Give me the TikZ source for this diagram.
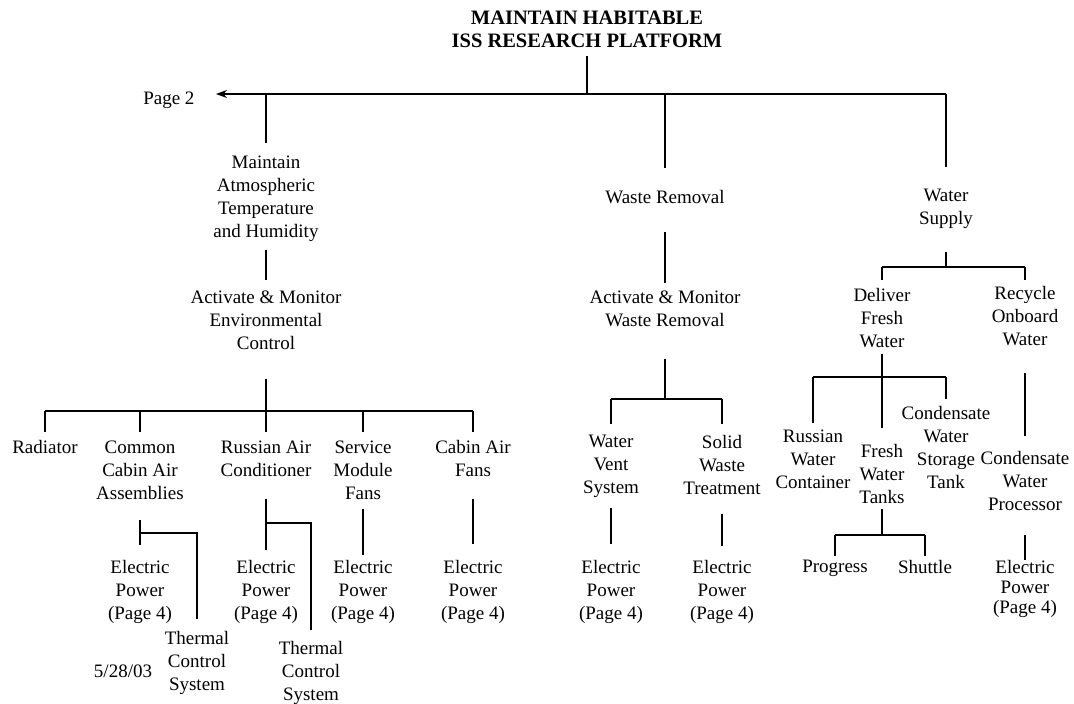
\documentclass[tikz,border=0pt]{standalone}
\usepackage{fontspec}
\setmainfont{Liberation Serif}
\usetikzlibrary{arrows.meta}

\begin{document}
\begin{tikzpicture}[x=1pt,y=-1pt,line width=1.1pt,
	box/.style={font=\fontsize{19}{23}\selectfont,align=center,inner sep=0pt,anchor=north,
		execute at end node={\rule[-4pt]{0pt}{4pt}}},
	head/.style={font=\bfseries\fontsize{20.5}{23}\selectfont,align=center,inner sep=0pt,anchor=north,
		execute at end node={\rule[-8pt]{0pt}{8pt}}}]
	\useasboundingbox (0,0) rectangle (1074,704);
	% goal and the three branches
	\node[head] (goal) at (587,10.5) {MAINTAIN HABITABLE\\ISS RESEARCH PLATFORM};
	\node[box,anchor=base east] (pg2) at (195,104) {Page 2};
	\node[box] (maint) at (266,155) {Maintain\\Atmospheric\\Temperature\\and Humidity};
	\node[box] (waste) at (665,190) {Waste Removal};
	\node[box] (water) at (946,189) {Water\\Supply};
	\coordinate (bus) at (587,94);
	\coordinate (pg2tip) at (216,94);
	\draw (goal) -- (bus);
	\draw[-{Stealth[length=11pt,width=8pt]}] (bus -| water) -- (pg2tip);
	\draw (bus -| maint) -- ([yshift=12pt]maint.north);
	\draw (bus -| waste) -- ([yshift=22pt]waste.north);
	\draw (bus -| water) -- ([yshift=22pt]water.north);
	
	% atmosphere
	\node[box] (actenv) at (266,290) {Activate \& Monitor\\Environmental\\Control};
	\node[box] (rad) at (45,440) {Radiator};
	\node[box] (cca) at (140,440) {Common\\Cabin Air\\Assemblies};
	\node[box] (rac) at (266,440) {Russian Air\\Conditioner};
	\node[box] (smf) at (363,440) {Service\\Module\\Fans};
	\node[box] (caf) at (473,440) {Cabin Air\\Fans};
	\node[box] (ep1) at (140,560) {Electric\\Power\\(Page 4)};
	\node[box] (ep2) at (266,560) {Electric\\Power\\(Page 4)};
	\node[box] (ep3) at (363,560) {Electric\\Power\\(Page 4)};
	\node[box] (ep4) at (473,560) {Electric\\Power\\(Page 4)};
	\node[box] (tcs1) at (197,631) {Thermal\\Control\\System};
	\node[box] (tcs2) at (311,641) {Thermal\\Control\\System};
	\node[box,anchor=base] (date) at (123,677) {5/28/03};
	\coordinate (envbar) at (266,411);
	\draw ([yshift=-8pt]maint.south) -- ([yshift=10pt]actenv.north);
	\draw ([yshift=-25pt]actenv.south) -- (envbar);
	\draw (rad |- envbar) -- (caf |- envbar);
	\foreach \n in {rad,cca,rac,smf,caf}
		\draw (\n |- envbar) -- ([yshift=8pt]\n.north);
	\coordinate (ccaj) at (140,533);
	\coordinate (racj) at (266,523);
	\draw ([yshift=-16pt]cca.south) -- ([yshift=15pt]ep1.north);
	\draw (ccaj) -| ([yshift=12pt]tcs1.north);
	\draw ([yshift=-18pt]rac.south) -- ([yshift=10pt]ep2.north);
	\draw (racj) -| ([yshift=11pt]tcs2.north);
	\draw ([yshift=-5pt]smf.south) -- ([yshift=5pt]ep3.north);
	\draw ([yshift=-18pt]caf.south) -- ([yshift=16pt]ep4.north);
	
	% waste
	\node[box] (actwaste) at (665,290) {Activate \& Monitor\\Waste Removal};
	\node[box] (wvs) at (611,435) {Water\\Vent\\System};
	\node[box] (swt) at (722,435) {Solid\\Waste\\Treatment};
	\node[box] (ep5) at (611,560) {Electric\\Power\\(Page 4)};
	\node[box] (ep6) at (722,560) {Electric\\Power\\(Page 4)};
	\coordinate (wbar) at (665,399);
	\draw ([yshift=-24pt]waste.south) -- ([yshift=7pt]actwaste.north);
	\draw ([yshift=-28pt]actwaste.south) -- (wbar);
	\draw (wvs |- wbar) -- (swt |- wbar);
	\foreach \n in {wvs,swt}
		\draw (\n |- wbar) -- ([yshift=11pt]\n.north);
	\draw ([yshift=-9pt]wvs.south) -- ([yshift=16pt]ep5.north);
	\draw ([yshift=-15pt]swt.south) -- ([yshift=14pt]ep6.north);
	
	% water
	\node[box] (deliver) at (882,288) {Deliver\\Fresh\\Water};
	\node[box] (recycle) at (1025,286) {Recycle\\Onboard\\Water};
	\node[box] (rwc) at (813,429) {Russian\\Water\\Container};
	\node[box] (fwt) at (882,444) {Fresh\\Water\\Tanks};
	\node[box] (cwst) at (946,406) {Condensate\\Water\\Storage\\Tank};
	\node[box] (prog) at (835,560) {Progress};
	\node[box] (shut) at (925,560) {Shuttle};
	\node[box] (cwp) at (1025,451) {Condensate\\Water\\Processor};
	\node[box,font=\fontsize{19}{20}\selectfont] (ep7) at (1025,560) {Electric\\Power\\(Page 4)};
	\coordinate (sbar) at (946,267);
	\coordinate (dbar) at (882,377);
	\coordinate (pbar) at (882,535);
	\draw ([yshift=-22pt]water.south) -- (sbar);
	\draw (deliver |- sbar) -- (recycle |- sbar);
	\draw (deliver |- sbar) -- ([yshift=8pt]deliver.north);
	\draw (recycle |- sbar) -- ([yshift=6pt]recycle.north);
	\draw ([yshift=-2pt]deliver.south) -- ([yshift=16pt]fwt.north);
	\draw (rwc |- dbar) -- (cwst |- dbar);
	\draw (rwc |- dbar) -- ([yshift=6pt]rwc.north);
	\draw (cwst |- dbar) -- ([yshift=7pt]cwst.north);
	\draw ([yshift=-1pt]fwt.south) -- (pbar);
	\draw (prog |- pbar) -- (shut |- pbar);
	\foreach \n in {prog,shut}
		\draw (\n |- pbar) -- ([yshift=4pt]\n.north);
	\draw ([yshift=-23pt]recycle.south) -- ([yshift=15pt]cwp.north);
	\draw ([yshift=-20pt]cwp.south) -- (ep7);
\end{tikzpicture}
\end{document}
